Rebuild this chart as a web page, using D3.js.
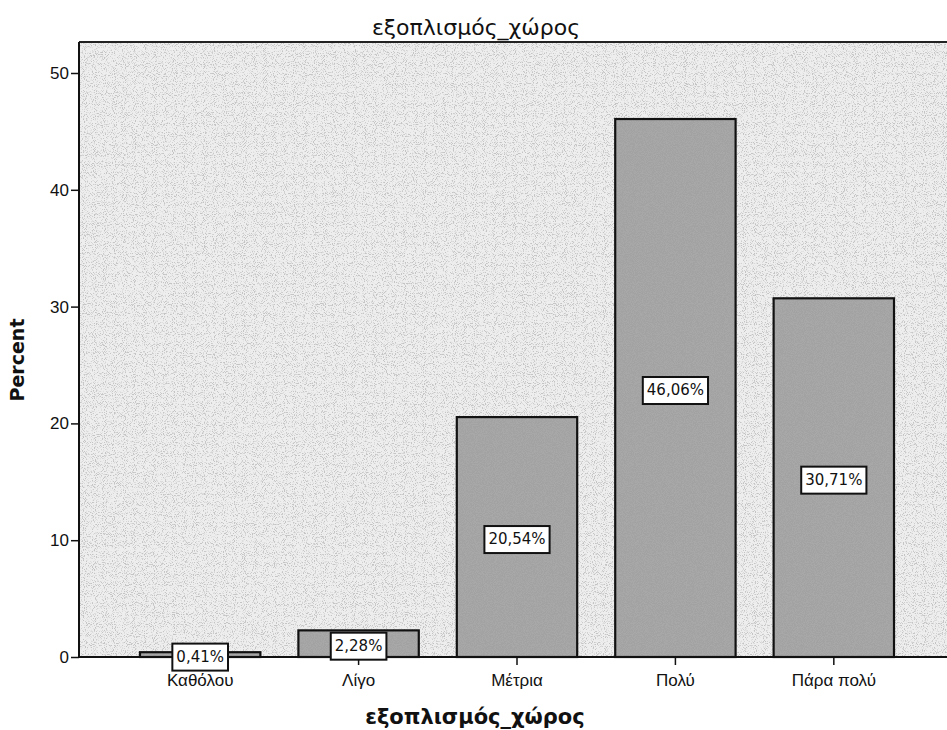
<!DOCTYPE html>
<html>
<head>
<meta charset="utf-8">
<script src="https://cdn.jsdelivr.net/npm/d3@7"></script>
<style>
  body { margin: 0; background: #fff; }
  svg { display: block; }
</style>
</head>
<body>
<svg id="chart" width="947" height="730"></svg>
<script>
// values
const categories = ['Καθόλου', 'Λίγο', 'Μέτρια', 'Πολύ', 'Πάρα πολύ'];
const percents = [0.41, 2.28, 20.54, 46.06, 30.71];
const barLabels = ['0,41%', '2,28%', '20,54%', '46,06%', '30,71%'];
const yTicks = [0, 10, 20, 30, 40, 50];

const svg = d3.select('#chart');

const m = {top: 42, left: 79, bottom: 657};

const x = d3.scaleBand()
    .domain(categories)
    .range([m.left, 955])
    .paddingInner(0.24)
    .paddingOuter(0.385);

const y = d3.scaleLinear()
    .domain([0, 50])
    .range([m.bottom, 73]);

// speckle texture like the scanned page
const defs = svg.append('defs');
function grain(id, grey, k, b, seed) {
  const f = defs.append('filter').attr('id', id)
      .attr('x', 0).attr('y', 0).attr('width', '100%').attr('height', '100%');
  f.append('feTurbulence')
      .attr('type', 'fractalNoise')
      .attr('baseFrequency', 1.1)
      .attr('numOctaves', 1)
      .attr('seed', seed)
      .attr('result', 't');
  f.append('feColorMatrix')
      .attr('in', 't')
      .attr('type', 'matrix')
      .attr('values', `0 0 0 0 ${grey}  0 0 0 0 ${grey}  0 0 0 0 ${grey}  0 0 0 ${k} ${b}`)
      .attr('result', 'dots');
  f.append('feComposite')
      .attr('in', 'dots').attr('in2', 'SourceGraphic').attr('operator', 'in')
      .attr('result', 'd2');
  f.append('feMerge').selectAll('feMergeNode')
      .data(['SourceGraphic', 'd2']).enter()
      .append('feMergeNode').attr('in', d => d);
}
grain('grainBg', 0.55, -6, 2.9, 3);
grain('grainBar', 0.36, -5, 3.0, 7);

// plot background
svg.append('rect')
    .attr('x', m.left)
    .attr('y', m.top)
    .attr('width', 947 - m.left)
    .attr('height', m.bottom - m.top)
    .attr('fill', '#eeeeee')
    .attr('filter', 'url(#grainBg)');

// bars
svg.selectAll('.bar')
    .data(percents)
    .enter()
    .append('rect')
    .attr('class', 'bar')
    .attr('x', (d, i) => x(categories[i]))
    .attr('y', d => y(d))
    .attr('width', x.bandwidth())
    .attr('height', d => y(0) - y(d))
    .attr('fill', '#a8a8a8')
    .attr('filter', 'url(#grainBar)');

svg.selectAll('.barEdge')
    .data(percents)
    .enter()
    .append('rect')
    .attr('class', 'barEdge')
    .attr('x', (d, i) => x(categories[i]))
    .attr('y', d => y(d))
    .attr('width', x.bandwidth())
    .attr('height', d => y(0) - y(d))
    .attr('fill', 'none')
    .attr('stroke', '#111')
    .attr('stroke-width', 2.2);

// frame top line
svg.append('line')
    .attr('x1', m.left).attr('x2', 947)
    .attr('y1', m.top).attr('y2', m.top)
    .attr('stroke', '#222').attr('stroke-width', 2);

// axes
const yAxis = d3.axisLeft(y).tickValues(yTicks).tickSize(8).tickPadding(2);
const gy = svg.append('g')
    .attr('transform', 'translate(' + m.left + ',0)')
    .call(yAxis);
gy.select('.domain').attr('d', 'M0,' + m.top + 'V' + m.bottom).attr('stroke', '#111').attr('stroke-width', 2);
gy.selectAll('.tick line').attr('stroke', '#111').attr('stroke-width', 1.5);
gy.selectAll('.tick text')
    .style('font-family', 'Liberation Sans, Arial, sans-serif')
    .style('font-size', '17px')
    .attr('fill', '#111');

const xAxis = d3.axisBottom(x).tickSize(8).tickPadding(9);
const gx = svg.append('g')
    .attr('transform', 'translate(0,' + m.bottom + ')')
    .call(xAxis);
gx.select('.domain').attr('d', 'M' + m.left + ',0H947').attr('stroke', '#111').attr('stroke-width', 2);
gx.selectAll('.tick line').attr('stroke', '#111').attr('stroke-width', 1.5);
gx.selectAll('.tick text')
    .style('font-family', 'Liberation Sans, Arial, sans-serif')
    .style('font-size', '17px')
    .attr('fill', '#111');

// value labels in boxes
const labels = svg.selectAll('.lab')
    .data(percents)
    .enter()
    .append('g')
    .attr('class', 'lab')
    .attr('transform', (d, i) => 'translate(' + (x(categories[i]) + x.bandwidth() / 2) + ',' + ((y(d) + y(0)) / 2 + 2) + ')');

labels.append('text')
    .attr('text-anchor', 'middle')
    .attr('dy', '0.36em')
    .style('font-family', 'DejaVu Sans, sans-serif')
    .style('font-size', '15px')
    .attr('fill', '#111')
    .text((d, i) => barLabels[i]);

labels.each(function() {
  const g = d3.select(this);
  const bb = g.select('text').node().getBBox();
  g.insert('rect', 'text')
      .attr('x', bb.x - 4)
      .attr('y', -13)
      .attr('width', bb.width + 8)
      .attr('height', 27)
      .attr('fill', '#fff')
      .attr('stroke', '#111')
      .attr('stroke-width', 2);
});

// titles
svg.append('text')
    .attr('x', 476).attr('y', 35)
    .attr('text-anchor', 'middle')
    .style('font-family', 'DejaVu Sans, sans-serif')
    .style('font-size', '22px')
    .style('font-weight', '500')
    .attr('fill', '#111')
    .text('εξοπλισμός_χώρος');

svg.append('text')
    .attr('x', 475).attr('y', 724)
    .attr('text-anchor', 'middle')
    .style('font-family', 'DejaVu Sans, sans-serif')
    .style('font-size', '21px')
    .style('font-weight', 'bold')
    .attr('fill', '#111')
    .text('εξοπλισμός_χώρος');

svg.append('text')
    .attr('transform', 'translate(24,360) rotate(-90)')
    .attr('text-anchor', 'middle')
    .style('font-family', 'DejaVu Sans, sans-serif')
    .style('font-size', '19px')
    .style('font-weight', 'bold')
    .attr('fill', '#111')
    .text('Percent');
</script>
</body>
</html>
